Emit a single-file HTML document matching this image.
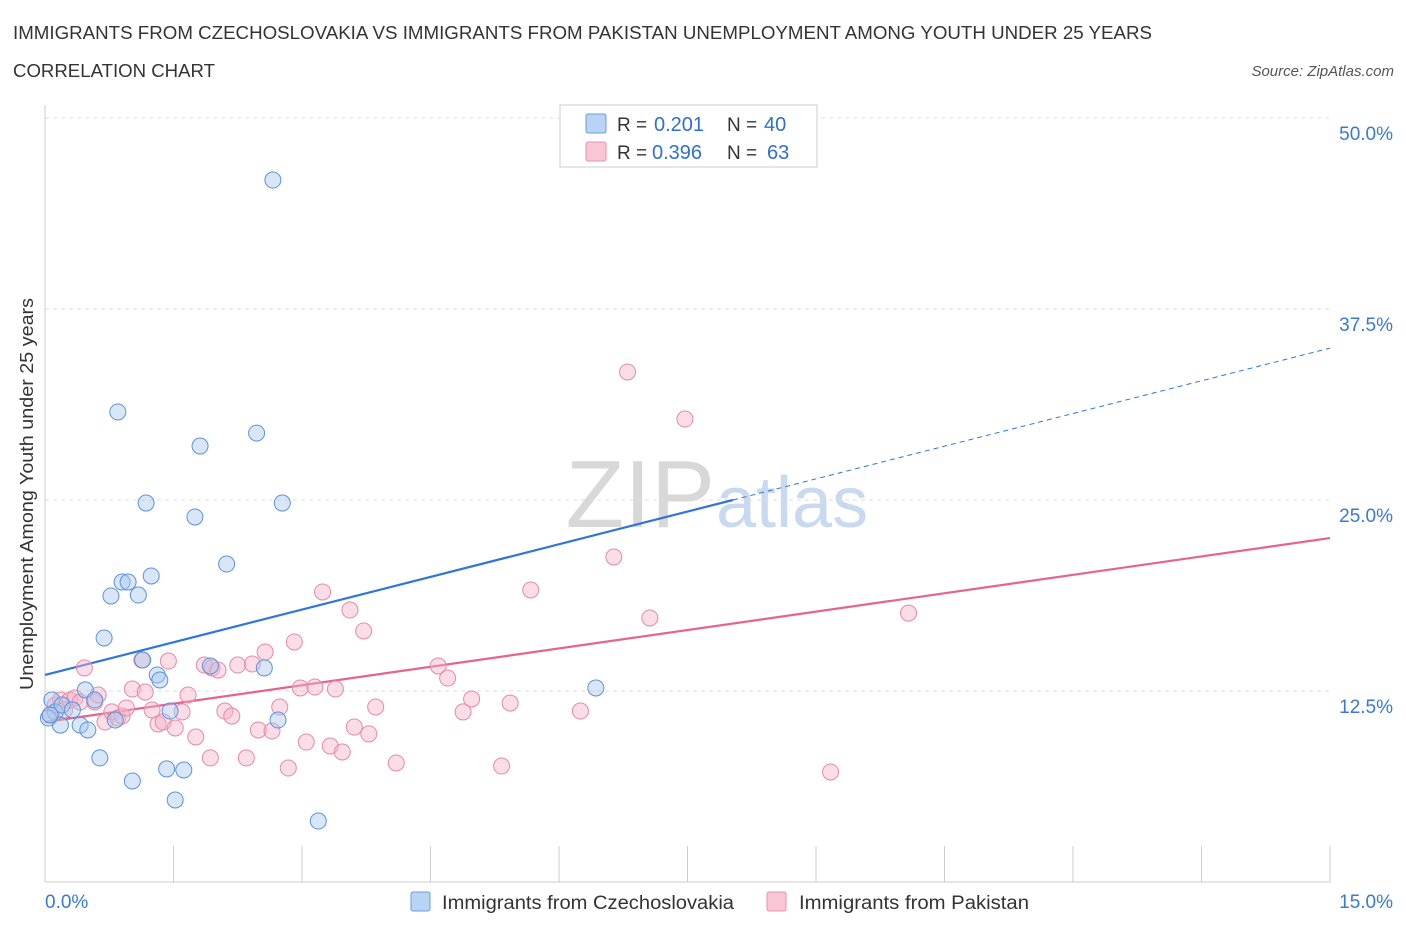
<!DOCTYPE html>
<html><head><meta charset="utf-8"><style>
body{margin:0;background:#fff;font-family:"Liberation Sans",sans-serif;}
svg text{font-family:"Liberation Sans",sans-serif;}
</style></head><body>
<svg id="chart" width="1406" height="930" xmlns="http://www.w3.org/2000/svg">
<text x="13" y="39" font-size="18" fill="#333" textLength="1139" lengthAdjust="spacingAndGlyphs">IMMIGRANTS FROM CZECHOSLOVAKIA VS IMMIGRANTS FROM PAKISTAN UNEMPLOYMENT AMONG YOUTH UNDER 25 YEARS</text>
<text x="13" y="77" font-size="18" fill="#333" textLength="202" lengthAdjust="spacingAndGlyphs">CORRELATION CHART</text>
<text x="1394" y="76" font-size="15" fill="#555" font-style="italic" text-anchor="end">Source: ZipAtlas.com</text>
<text x="33" y="494" font-size="18" fill="#333" text-anchor="middle" textLength="392" lengthAdjust="spacingAndGlyphs" transform="rotate(-90 33 494)">Unemployment Among Youth under 25 years</text>
<text x="715" y="527" font-size="96" fill="#d8d8d8" text-anchor="end" font-family="Liberation Serif">ZIP</text>
<text x="716" y="527" font-size="72" fill="#c8d9f0">atlas</text>
<g id="grid"></g><g id="axes"></g><g id="lines"></g><g id="pts"></g>
<g>
<rect x="560" y="105" width="257" height="62" fill="#fff" stroke="#ccc"/>
<rect x="586" y="114" width="20" height="19" fill="#b9d3f5" stroke="#6a9de0" rx="2"/>
<text x="617" y="131" font-size="19" fill="#333">R =</text>
<text x="654" y="131" font-size="20" fill="#2f6fd0">0.201</text>
<text x="727" y="131" font-size="19" fill="#333">N =</text>
<text x="764" y="131" font-size="20" fill="#2f6fd0">40</text>
<rect x="586" y="142" width="20" height="19" fill="#f9c6d6" stroke="#e890ae" rx="2"/>
<text x="617" y="159" font-size="19" fill="#333">R =</text>
<text x="652" y="159" font-size="20" fill="#2f6fd0">0.396</text>
<text x="727" y="159" font-size="19" fill="#333">N =</text>
<text x="767" y="159" font-size="20" fill="#2f6fd0">63</text>
</g>
<g>
<rect x="411" y="892" width="19" height="19" fill="#b9d3f5" stroke="#6a9de0" rx="2"/>
<text x="442" y="909" font-size="19" fill="#333" textLength="292" lengthAdjust="spacingAndGlyphs">Immigrants from Czechoslovakia</text>
<rect x="767" y="892" width="19" height="19" fill="#f9c6d6" stroke="#e890ae" rx="2"/>
<text x="799" y="909" font-size="19" fill="#333" textLength="230" lengthAdjust="spacingAndGlyphs">Immigrants from Pakistan</text>
</g>
</svg>
<script>
const yTicks=[12.5,25,37.5,50];
const yTickLabels=["12.5%","25.0%","37.5%","50.0%"];
const xTickLabels=["0.0%","15.0%"];
const blueX=[0.08,0.12,0.18,0.20,0.32,0.41,0.47,0.50,0.58,0.64,0.69,0.77,0.82,0.85,0.90,0.97,1.02,1.09,1.14,1.18,1.24,1.31,1.34,1.42,1.46,1.52,1.62,1.75,1.81,1.93,2.12,2.47,2.56,2.66,2.72,2.77,3.19,6.43,0.04,0.06];
const blueY=[11.91,11.13,10.27,11.58,11.26,10.27,12.57,9.95,11.91,8.12,15.97,18.72,10.60,30.76,19.63,19.63,6.61,18.78,14.53,24.80,20.03,13.55,13.22,7.40,11.19,5.37,7.33,23.89,28.53,14.14,20.81,29.38,14.01,45.94,10.60,24.80,3.99,12.70,10.73,10.93];
const pinkX=[0.06,0.12,0.18,0.23,0.29,0.35,0.41,0.46,0.58,0.62,0.70,0.78,0.85,0.90,0.95,1.02,1.13,1.17,1.25,1.32,1.38,1.44,1.52,1.60,1.67,1.76,1.86,1.93,1.95,2.02,2.10,2.18,2.25,2.35,2.42,2.49,2.57,2.65,2.74,2.84,2.91,2.98,3.05,3.15,3.24,3.33,3.39,3.47,3.56,3.61,3.72,3.78,3.86,4.10,4.59,4.70,4.88,4.98,5.33,5.43,5.67,6.25,6.64,6.80,7.06,7.47,9.17,10.08];
const pinkY=[10.93,11.58,11.91,11.26,11.91,12.04,11.78,14.01,11.78,12.24,10.47,11.13,10.73,10.86,11.39,12.63,14.53,12.43,11.26,10.34,10.47,14.46,10.08,11.13,12.24,9.49,14.20,8.12,14.01,13.87,11.19,10.86,14.20,8.12,14.27,9.95,15.05,9.88,11.45,7.46,15.71,12.70,9.16,12.76,18.98,8.90,12.63,8.51,17.80,10.14,16.43,9.69,11.45,7.79,14.14,13.35,11.13,11.98,7.59,11.71,19.11,11.19,21.27,33.38,17.28,30.30,7.20,17.60];
const blueLine=[13.55,25.0,8.03,34.94];
const pinkLine=[10.47,22.51];
const X0=45,X1=1330,Y0=882,Y1=118;
const sx=v=>X0+(v/15)*(X1-X0), sy=v=>Y0-(v/50)*(Y0-Y1);
const NS="http://www.w3.org/2000/svg";
function mk(p,t,a){const e=document.createElementNS(NS,t);for(const k in a)e.setAttribute(k,a[k]);p.appendChild(e);return e;}
const grid=document.getElementById('grid'),axes=document.getElementById('axes'),lines=document.getElementById('lines'),pts=document.getElementById('pts');
yTicks.forEach((t,i)=>{
 const g=mk(grid,'line',{x1:X0,x2:X1,y1:sy(t),y2:sy(t),stroke:'#ddd','stroke-dasharray':'4,4'});
 
 
 const l=mk(axes,'text',{x:1393,y:sy(t)+22,'font-size':19,fill:'#3b78d6','text-anchor':'end'});
 l.textContent=yTickLabels[i];
 
 
});
const ax=mk(axes,'line',{x1:X0,x2:X0,y1:105,y2:Y0,stroke:'#ccc'});


const bx=mk(axes,'line',{x1:X0,x2:X1,y1:Y0,y2:Y0,stroke:'#ccc'});


for(let i=0;i<=10;i++){const t=mk(axes,'line',{x1:sx(i*1.5),x2:sx(i*1.5),y1:Y0-36,y2:Y0,stroke:'#ccc'});
 
 }
const xl0=mk(axes,'text',{x:45,y:908,'font-size':19,fill:'#3b78d6'});xl0.textContent=xTickLabels[0];


const xl1=mk(axes,'text',{x:1393,y:908,'font-size':19,fill:'#3b78d6','text-anchor':'end'});xl1.textContent=xTickLabels[1];


function dots(xs,ys,fill,stroke,name){xs.forEach((x,i)=>{const c=mk(pts,'circle',{cx:sx(x),cy:sy(ys[i]),r:8,fill:fill,'fill-opacity':0.45,stroke:stroke,'stroke-width':1});
 
 });}
dots(pinkX,pinkY,'#f5b3c8','#e58aaa','point-pakistan');
dots(blueX,blueY,'#a9c8f0','#5b93dc','point-czechoslovakia');
const b1=mk(lines,'line',{x1:sx(0),y1:sy(blueLine[0]),x2:sx(blueLine[2]),y2:sy(blueLine[1]),stroke:'#2f76d8','stroke-width':2.2});


const b2=mk(lines,'line',{x1:sx(blueLine[2]),y1:sy(blueLine[1]),x2:sx(15),y2:sy(blueLine[3]),stroke:'#2f76d8','stroke-width':1,'stroke-dasharray':'5,4'});


const p1=mk(lines,'line',{x1:sx(0),y1:sy(pinkLine[0]),x2:sx(15),y2:sy(pinkLine[1]),stroke:'#e5638e','stroke-width':2.2});


</script>
</body></html>
